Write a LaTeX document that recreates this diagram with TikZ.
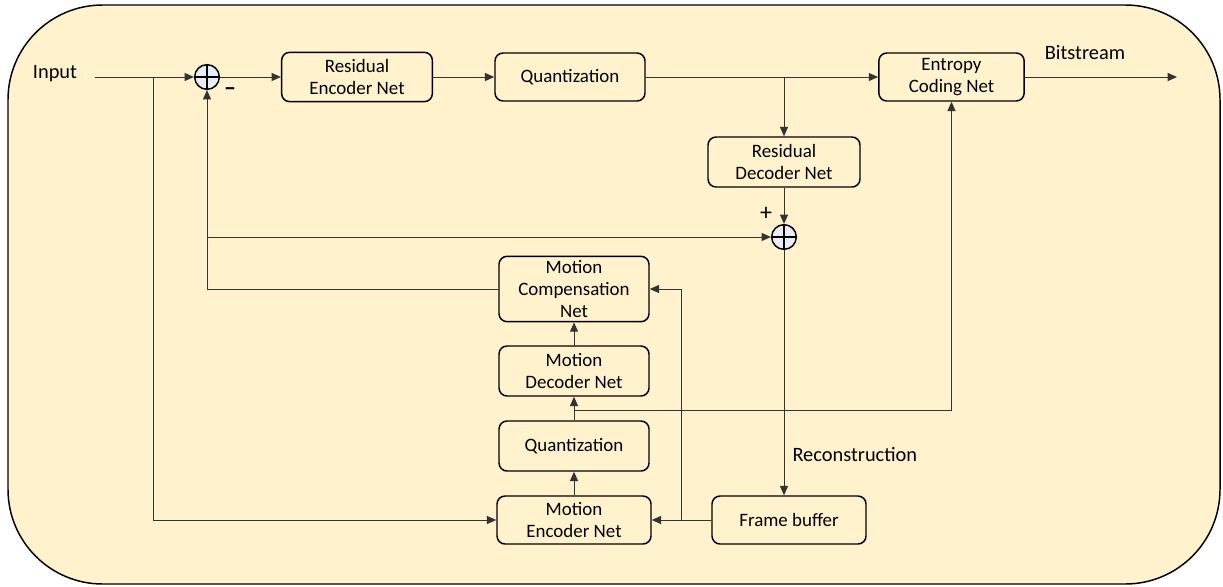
\documentclass[tikz,border=0pt]{standalone}
\usepackage{fontspec}
\setmainfont{Carlito}
\usetikzlibrary{arrows.meta,positioning}
\definecolor{paneltan}{RGB}{255,242,204}
\definecolor{sumfill}{RGB}{232,236,244}
\tikzset{every picture/.style={line width=0.75pt}}
\tikzset{
  blk/.style={draw, rounded corners=6pt, line width=1.1pt, align=center, inner sep=0.75pt,
    font=\fontsize{14.2}{16.5}\selectfont},
  sumnode/.style={draw, circle, fill=sumfill, minimum size=18.5pt, inner sep=0pt, line width=1.1pt,
    path picture={\draw[line width=0.9pt] (path picture bounding box.north) -- (path picture bounding box.south)
      (path picture bounding box.west) -- (path picture bounding box.east);}},
  lbl/.style={inner sep=0.75pt, font=\fontsize{15.3}{18}\selectfont},
  sgn/.style={inner sep=0.75pt, font=\fontsize{18}{20}\selectfont},
  wire/.style={draw=black!80},
  arr/.style={wire, -{Triangle[length=7pt,width=6pt]}},
}

\begin{document}
\begin{tikzpicture}[x=0.75pt,y=0.75pt,yscale=-1,xscale=1]
\useasboundingbox (0,0) rectangle (1223,586);

%Panel
\draw [fill=paneltan, line width=1.1pt, rounded corners=71pt] (8,5) rectangle (1220,584);

%Adders
\node [sumnode] (sumA) at (207,77) {};
\node [sumnode] (sumB) at (784,237) {};

%Residual path
\node [blk, minimum width=113pt, minimum height=37pt] (resenc) at (357,77) {Residual\\Encoder Net};
\node [blk, minimum width=112.5pt, minimum height=36pt] (quantA) at (570,77) {Quantization};
\node [blk, minimum width=109pt, minimum height=36pt] (entropy) at (951.5,77) {Entropy\\Coding Net};
\node [blk, minimum width=114pt, minimum height=37.5pt] (resdec) at (784,162) {Residual\\Decoder Net};

%Motion path
\node [blk, minimum width=112.5pt, minimum height=49pt] (mcomp) at (574,289) {Motion\\Compensation\\Net};
\node [blk, minimum width=112.5pt, minimum height=37.5pt] (mdec) at (574,371) {Motion\\Decoder Net};
\node [blk, minimum width=112.5pt, minimum height=37.5pt] (quantB) at (574,446) {Quantization};
\node [blk, minimum width=115.5pt, minimum height=36pt] (menc) at (574,520) {Motion\\Encoder Net};
\node [blk, minimum width=115.5pt, minimum height=36pt] (fbuf) at (789,520) {Frame buffer};

%Labels
\node [lbl] (input) at (55,74) {Input};
\node [lbl] (bits) at (1085,53) {Bitstream};
\node [lbl, anchor=west] (recon) at (791,455) {Reconstruction};
\node [sgn] (minusA) at (230,92) {\textbf{--}};
\node [sgn] (plusB) at (766,214) {+};

%Junctions
\coordinate (inA) at (95,77);
\coordinate (tapIn) at (153,77);
\coordinate (tapQ) at (784,77);
\coordinate (tapS) at (207,237);
\coordinate (tapF) at (681,520);
\coordinate (tapM) at (574,410);
\coordinate (bitend) at (1177,77);

%Connectors
\draw [arr] (inA) -- (sumA);
\draw [arr] (tapIn) |- (menc.west);
\draw [arr] (sumA) -- (resenc);
\draw [arr] (resenc) -- (quantA);
\draw [arr] (quantA) -- (entropy);
\draw [arr] (entropy) -- (bitend);
\draw [arr] (tapQ) -- (resdec);
\draw [arr] (resdec) -- (sumB);
\draw [arr] (mcomp.west) -| (sumA.south);
\draw [arr] (tapS) -- (sumB);
\draw [arr] (sumB.south) -- (sumB.south |- fbuf.north);
\draw [arr] (fbuf) -- (menc);
\draw [arr] (tapF) |- (mcomp.east);
\draw [arr] (menc) -- (quantB);
\draw [wire] (quantB) -- (tapM);
\draw [arr] (tapM) -- (mdec);
\draw [arr] (tapM) -| (entropy.south);
\draw [arr] (mdec) -- (mcomp);

\end{tikzpicture}
\end{document}
